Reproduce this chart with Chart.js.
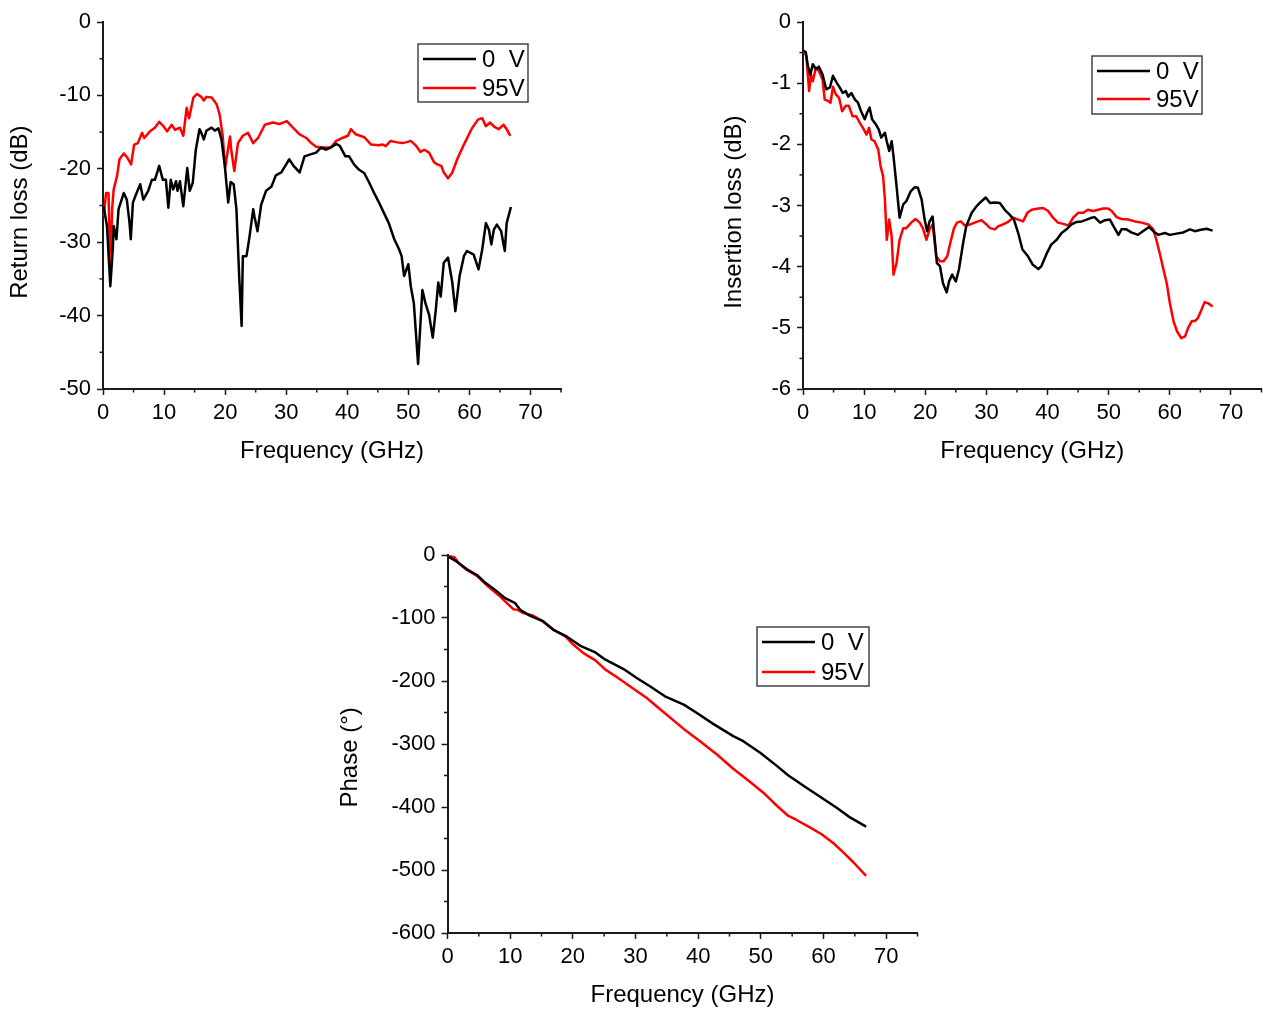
<!DOCTYPE html>
<html>
<head>
<meta charset="utf-8">
<title>Return loss / Insertion loss / Phase</title>
<script src="https://cdn.jsdelivr.net/npm/chart.js@4.4.1/dist/chart.umd.min.js"></script>
<style>
  html, body { margin: 0; padding: 0; background: #fff; }
  body { width: 1263px; height: 1010px; position: relative; overflow: hidden; }
  canvas { position: absolute; }
</style>
</head>
<body>
<canvas id="returnLoss" width="600" height="466" style="left:0px;top:0px"></canvas>
<canvas id="insertionLoss" width="563" height="466" style="left:700px;top:0px"></canvas>
<canvas id="phase" width="610" height="490" style="left:330px;top:520px"></canvas>
<script>
// series labels and frequency tick labels
const seriesLabels = ["0  V", "95V"]
const freqTicks = [0, 10, 20, 30, 40, 50, 60, 70]

// Return loss (dB) vs frequency (GHz)
const returnLoss0V = [
  [0.1, -25.1], [0.65, -27.8], [1.2, -36], [1.6, -31], [1.75, -27.8], [2.2, -29.6], [2.55, -25.5],
  [3.4, -23.3], [3.9, -24.2], [4.35, -27.4], [4.55, -29.6], [4.9, -24.6], [5.3, -23.7], [6.1, -22.1],
  [6.6, -24.2], [7.4, -23], [8.0, -21.5], [8.5, -21.5], [9.2, -19.6], [9.8, -21.5], [10.3, -21.5],
  [10.7, -25.3], [11.1, -21.5], [11.5, -22.8], [11.95, -21.7], [12.2, -23], [12.6, -21.7], [13.15, -25.1],
  [13.8, -19.9], [14.2, -23], [14.7, -21.9], [15.2, -17.4], [15.8, -14.6], [16.1, -15.1], [16.5, -16],
  [16.95, -14.8], [17.8, -14.4], [18.3, -14.8], [18.9, -14.5], [19.4, -16], [19.95, -19.6], [20.5, -24.6],
  [20.9, -21.8], [21.4, -22.1], [21.85, -25.5], [22.3, -34.6], [22.7, -41.4], [22.9, -31.9], [23.5, -31.9],
  [24.0, -29.2], [24.6, -25.5], [24.8, -26.5], [25.3, -28.5], [25.9, -24.9], [26.7, -23], [27.6, -22.4],
  [28.3, -20.9], [29.2, -20.5], [30.0, -19.4], [30.5, -18.7], [31.2, -19.6], [32.2, -20.5], [33.0, -18.3],
  [34.1, -18], [34.9, -17.8], [35.7, -17.1], [36.5, -17.4], [37.3, -17.1], [38.2, -16.6], [38.8, -16.9],
  [39.7, -18.3], [40.3, -18.3], [41.1, -19.4], [41.9, -20.1], [42.8, -20.6], [43.6, -21.9], [44.4, -23.3],
  [45.2, -24.6], [46.0, -26], [46.8, -27.4], [47.7, -29.6], [48.5, -31], [48.9, -31.9], [49.3, -34.6],
  [50.0, -33], [50.4, -36], [50.9, -38.3], [51.6, -46.6], [52.3, -36.5], [52.8, -38.3], [53.4, -39.9],
  [54.0, -43], [54.5, -39.2], [54.9, -35.5], [55.3, -37.4], [55.8, -32.8], [56.5, -32.1], [57.2, -35.5],
  [57.7, -39.4], [58.4, -34.6], [59.1, -31.9], [59.6, -31.2], [60.7, -31.7], [61.5, -33.7], [62.1, -31],
  [62.7, -27.4], [63.2, -28.3], [63.6, -30.3], [64.0, -28.3], [64.5, -27.6], [65.2, -28.5], [65.8, -31.2],
  [66.1, -27.4], [66.8, -25.2]
]
const returnLoss95V = [
  [0.1, -26.5], [0.5, -23.3], [0.9, -23.3], [1.2, -33.3], [1.5, -25.5], [1.75, -22.8], [2.3, -21],
  [2.7, -18.7], [3.4, -17.9], [4.0, -18.5], [4.6, -19.4], [5.1, -16.7], [5.7, -16.5], [6.4, -15.1],
  [6.75, -15.8], [7.7, -14.9], [8.5, -14.4], [9.2, -13.6], [9.9, -14.2], [10.5, -14.9], [11.25, -14],
  [11.8, -14.7], [12.6, -14.4], [13.15, -15.5], [13.7, -11.7], [14.1, -13.1], [14.8, -10.3], [15.4, -9.8],
  [16.1, -10.2], [16.5, -10.7], [16.95, -10.2], [17.8, -10.3], [18.6, -11.2], [19.1, -12.6], [19.6, -15.5],
  [20.0, -19.9], [20.8, -15.6], [21.0, -17.4], [21.5, -20.3], [22.1, -16.5], [22.9, -15.5], [23.75, -15.1],
  [24.6, -16.5], [25.4, -15.8], [26.5, -14], [27.8, -13.7], [28.9, -13.9], [30.1, -13.5], [31.1, -14.4],
  [32.2, -15.3], [33.3, -15.8], [34.1, -16.5], [34.9, -17], [35.9, -17.1], [37.3, -17.1], [38.2, -16.2],
  [39.2, -15.8], [40.1, -15.5], [40.6, -14.6], [41.4, -15.3], [42.8, -15.7], [43.9, -16.7], [45.2, -16.8],
  [45.8, -16.7], [46.3, -16.9], [47.1, -16.2], [48.2, -16.4], [49.0, -16.5], [49.6, -16.4], [50.4, -16.2],
  [51.2, -16.8], [52.0, -17.7], [52.6, -17.4], [53.4, -17.8], [54.2, -19.1], [54.75, -19.4], [55.4, -19.6],
  [55.8, -20.5], [56.5, -21.3], [57.2, -20.5], [58.0, -18.7], [59.1, -16.7], [60.4, -14.5], [61.4, -13.3],
  [62.1, -13.1], [62.7, -14.2], [63.4, -13.7], [64.1, -14.3], [64.8, -14.6], [65.6, -14], [66.1, -14.6],
  [66.7, -15.5]
]

// Insertion loss (dB) vs frequency (GHz)
const insertionLoss0V = [
  [0.1, -0.47], [0.45, -0.49], [0.8, -0.72], [1.2, -0.86], [1.6, -0.69], [2.1, -0.77], [2.6, -0.73],
  [3.2, -0.86], [3.8, -1.1], [4.4, -1.07], [4.9, -0.88], [5.5, -0.99], [6.0, -1.07], [6.5, -1.16],
  [7.0, -1.13], [7.4, -1.22], [7.9, -1.16], [8.5, -1.27], [9.0, -1.32], [9.5, -1.46], [10.1, -1.59],
  [10.5, -1.48], [10.9, -1.4], [11.3, -1.59], [11.9, -1.67], [12.4, -1.76], [12.8, -1.89], [13.4, -1.81],
  [13.7, -1.95], [14.1, -2.11], [14.5, -1.95], [14.8, -2.19], [15.3, -2.68], [15.8, -3.2], [16.4, -2.98],
  [16.9, -2.93], [17.6, -2.77], [18.3, -2.7], [18.8, -2.71], [19.4, -2.9], [19.9, -3.23], [20.3, -3.42],
  [20.7, -3.26], [21.2, -3.18], [21.5, -3.5], [21.9, -3.94], [22.4, -3.99], [22.9, -4.27], [23.5, -4.42],
  [23.9, -4.24], [24.4, -4.13], [25.0, -4.24], [25.5, -4.05], [26.2, -3.61], [26.7, -3.34], [27.6, -3.12],
  [28.4, -3.01], [29.2, -2.93], [29.9, -2.87], [30.6, -2.96], [31.4, -2.95], [32.2, -2.96], [33.0, -3.07],
  [33.8, -3.15], [34.5, -3.23], [35.2, -3.45], [35.9, -3.72], [36.8, -3.83], [37.6, -3.97], [38.5, -4.04],
  [39.0, -3.99], [39.8, -3.8], [40.6, -3.64], [41.5, -3.56], [42.3, -3.45], [43.1, -3.39], [43.9, -3.31],
  [44.7, -3.27], [45.6, -3.26], [46.4, -3.23], [47.2, -3.2], [47.7, -3.19], [48.6, -3.28], [49.4, -3.24],
  [50.2, -3.23], [50.8, -3.34], [51.6, -3.48], [52.1, -3.39], [52.9, -3.39], [53.7, -3.44], [54.8, -3.48],
  [55.6, -3.42], [56.6, -3.35], [57.3, -3.42], [58.1, -3.48], [59.2, -3.45], [60.0, -3.48], [61.1, -3.46],
  [62.2, -3.44], [63.3, -3.39], [64.1, -3.42], [64.9, -3.4], [66.0, -3.38], [67.0, -3.41]
]
const insertionLoss95V = [
  [0.1, -0.47], [0.55, -0.56], [1.0, -1.13], [1.3, -0.86], [1.6, -0.97], [2.1, -0.75], [2.6, -0.8],
  [3.2, -0.94], [3.55, -1.27], [4.1, -1.29], [4.5, -1.32], [4.9, -1.06], [5.35, -1.18], [5.9, -1.24],
  [6.4, -1.46], [7.0, -1.37], [7.5, -1.37], [8.1, -1.54], [8.7, -1.54], [9.3, -1.65], [9.8, -1.73],
  [10.4, -1.84], [10.8, -1.73], [11.2, -1.92], [11.7, -1.95], [12.3, -2.08], [12.7, -2.36], [13.1, -2.52],
  [13.4, -2.9], [13.7, -3.56], [14.1, -3.23], [14.5, -3.5], [14.8, -4.13], [15.3, -3.94], [15.8, -3.56],
  [16.4, -3.37], [16.9, -3.37], [17.7, -3.28], [18.4, -3.22], [19.1, -3.28], [19.6, -3.37], [20.2, -3.56],
  [20.7, -3.39], [21.2, -3.31], [21.5, -3.56], [21.8, -3.83], [22.4, -3.91], [23.0, -3.91], [23.6, -3.83],
  [24.1, -3.61], [24.7, -3.37], [25.2, -3.28], [25.8, -3.26], [26.5, -3.33], [27.3, -3.31], [28.1, -3.28],
  [29.2, -3.24], [30.0, -3.31], [30.6, -3.37], [31.4, -3.39], [31.9, -3.34], [32.7, -3.31], [33.5, -3.27],
  [34.4, -3.2], [35.2, -3.23], [36.0, -3.26], [36.7, -3.12], [37.4, -3.07], [38.5, -3.05], [39.3, -3.04],
  [40.1, -3.09], [40.9, -3.2], [41.7, -3.28], [42.6, -3.3], [43.4, -3.33], [44.2, -3.2], [45.0, -3.12],
  [45.8, -3.12], [46.6, -3.07], [47.5, -3.09], [48.3, -3.07], [49.1, -3.05], [49.9, -3.05], [50.5, -3.09],
  [51.3, -3.19], [52.1, -3.22], [53.2, -3.23], [54.3, -3.26], [55.4, -3.28], [56.5, -3.31], [57.3, -3.39],
  [57.8, -3.56], [58.4, -3.8], [58.9, -4.02], [59.5, -4.27], [60.0, -4.59], [60.6, -4.89], [61.2, -5.06],
  [61.9, -5.17], [62.5, -5.14], [63.0, -5.0], [63.6, -4.89], [64.1, -4.89], [64.6, -4.84], [65.2, -4.7],
  [65.7, -4.58], [66.3, -4.6], [67.0, -4.65]
]

// Phase (°) vs frequency (GHz)
const phase0V = [
  [0.15, -2.6], [1.5, -10.6], [3.1, -22.7], [4.7, -31.7], [6.0, -43.8], [7.6, -55.4], [9.2, -68.6],
  [10.8, -76.5], [11.6, -87.1], [13.2, -96.6], [15.3, -105.5], [16.9, -118.7], [19.0, -129.3],
  [21.2, -144.1], [23.6, -154.6], [25.2, -166.2], [28.1, -181], [30.2, -195.3], [32.3, -208.4],
  [34.7, -224.3], [37.7, -237.5], [39.8, -250.7], [42.4, -268.1], [45.6, -287.6], [47.2, -295.5],
  [49.9, -314], [52.6, -335.1], [54.4, -349.9], [57.1, -368.3], [59.7, -385.2], [62.1, -401.1],
  [64.3, -416.9], [66.8, -431.1]
]
const phase95V = [
  [0.15, -1.6], [1.1, -3.7], [1.8, -13.2], [3.1, -23.7], [4.7, -33.2], [6.5, -50.1], [8.4, -66],
  [10.5, -86], [11.2, -87.1], [12.1, -92.3], [13.5, -95.5], [15.1, -104.5], [16.9, -118.7], [18.8, -129.3],
  [20.1, -142.5], [21.7, -155.7], [23.6, -167.3], [25.2, -182], [27.0, -193.7], [29.1, -208.4],
  [31.8, -226.9], [34.5, -249.6], [37.7, -276], [40.3, -295.5], [43.0, -316.6], [45.6, -339.3],
  [48.3, -360.4], [50.4, -377.3], [52.6, -398.4], [54.4, -414.2], [55.7, -420.6], [57.9, -432.7],
  [59.7, -443.3], [61.6, -457.5], [63.2, -472.3], [64.8, -488.1], [66.8, -509.2]
]

const AXIS = "#1a1a1a"
Chart.defaults.font.family = "'Liberation Sans', Arial, sans-serif"
Chart.defaults.color = "#000"

// ticks menores entre las principales
const minorTicks = {
  id: "minorTicks",
  afterDraw(chart, args, opts) {
    const ctx = chart.ctx
    const area = chart.chartArea
    ctx.save()
    ctx.strokeStyle = AXIS
    ctx.lineWidth = 1.5
    ;["x", "y"].forEach((id) => {
      const scale = chart.scales[id]
      const step = opts[id]
      const k0 = Math.ceil(scale.min / step - 1e-9)
      const k1 = Math.floor(scale.max / step + 1e-9)
      for (let k = k0; k <= k1; k++) {
        if (k % 2 === 0) continue
        const p = scale.getPixelForValue(k * step)
        ctx.beginPath()
        if (id === "x") {
          ctx.moveTo(p, area.bottom)
          ctx.lineTo(p, area.bottom + 3.5)
        } else {
          ctx.moveTo(area.left, p)
          ctx.lineTo(area.left - 3.5, p)
        }
        ctx.stroke()
      }
    })
    ctx.restore()
  },
}

// leyenda con recuadro dentro del gráfico
const boxLegend = {
  id: "boxLegend",
  afterDraw(chart, args, opts) {
    const ctx = chart.ctx
    ctx.save()
    ctx.fillStyle = "#fff"
    ctx.fillRect(opts.x, opts.y, opts.w, opts.h)
    ctx.strokeStyle = "#444"
    ctx.lineWidth = 1.5
    ctx.strokeRect(opts.x, opts.y, opts.w, opts.h)
    chart.data.datasets.forEach((ds, i) => {
      const ly = opts.y + 15 + i * opts.gap
      ctx.strokeStyle = ds.borderColor
      ctx.lineWidth = 2.5
      ctx.beginPath()
      ctx.moveTo(opts.x + 5, ly)
      ctx.lineTo(opts.x + 58, ly)
      ctx.stroke()
      ctx.fillStyle = "#000"
      ctx.font = "24px 'Liberation Sans', Arial, sans-serif"
      ctx.textBaseline = "middle"
      ctx.fillText(ds.label, opts.x + 64, ly + 1)
    })
    ctx.restore()
  },
}

function makeChart(canvasId, cfg) {
  const ctx = document.getElementById(canvasId).getContext("2d")
  return new Chart(ctx, {
    type: "line",
    data: {
      datasets: [
        {
          label: seriesLabels[0],
          data: cfg.black.map((p) => ({ x: p[0], y: p[1] })),
          borderColor: "#000000",
        },
        {
          label: seriesLabels[1],
          data: cfg.red.map((p) => ({ x: p[0], y: p[1] })),
          borderColor: "#ff0000",
        },
      ],
    },
    options: {
      responsive: false,
      animation: false,
      events: [],
      layout: { padding: { top: cfg.padTop, right: cfg.padRight, left: 0, bottom: 0 } },
      elements: {
        line: { borderWidth: 2.5, tension: 0, borderJoinStyle: "round", fill: false },
        point: { radius: 0 },
      },
      scales: {
        x: {
          type: "linear",
          min: 0,
          max: 75,
          afterBuildTicks: (s) => {
            s.ticks = freqTicks.map((v) => ({ value: v }))
          },
          afterFit: (s) => {
            s.height = 77
          },
          ticks: { stepSize: 10, padding: 5, font: { size: 22 }, color: "#000", maxRotation: 0, autoSkip: false },
          grid: { drawOnChartArea: false, tickLength: 6, tickWidth: 1.5, tickColor: AXIS },
          border: { color: AXIS, width: 2 },
          title: { display: true, text: "Frequency (GHz)", font: { size: 24 }, color: "#000", padding: 0 },
        },
        y: {
          type: "linear",
          min: cfg.yMin,
          max: 0,
          afterFit: (s) => {
            s.width = cfg.yWidth
          },
          ticks: { stepSize: cfg.yStep, padding: 6, font: { size: 22 }, color: "#000", autoSkip: false },
          grid: { drawOnChartArea: false, tickLength: 6, tickWidth: 1.5, tickColor: AXIS },
          border: { color: AXIS, width: 2 },
          title: { display: true, text: cfg.yTitle, font: { size: 24 }, color: "#000", padding: { top: cfg.yTitlePad, bottom: 0 } },
        },
      },
      plugins: {
        legend: { display: false },
        tooltip: { enabled: false },
        minorTicks: { x: 5, y: cfg.yStep / 2 },
        boxLegend: cfg.legend,
      },
    },
    plugins: [minorTicks, boxLegend],
  })
}

// trailing spaces nudge the rotated titles down to where the original sits
makeChart("returnLoss", {
  black: returnLoss0V,
  red: returnLoss95V,
  yMin: -50,
  yStep: 10,
  yTitle: "Return loss (dB)  ",
  yWidth: 103,
  yTitlePad: 6,
  padTop: 22,
  padRight: 39,
  legend: { x: 418, y: 44, w: 110, h: 58, gap: 29 },
})

makeChart("insertionLoss", {
  black: insertionLoss0V,
  red: insertionLoss95V,
  yMin: -6,
  yStep: 1,
  yTitle: "Insertion loss (dB)  ",
  yWidth: 103,
  yTitlePad: 20,
  padTop: 22,
  padRight: 1.5,
  legend: { x: 392, y: 56, w: 110, h: 58, gap: 28 },
})

makeChart("phase", {
  black: phase0V,
  red: phase95V,
  yMin: -600,
  yStep: 100,
  yTitle: "Phase (°)    ",
  yWidth: 117.5,
  yTitlePad: 6,
  padTop: 35,
  padRight: 22.5,
  legend: { x: 427, y: 107, w: 112, h: 59, gap: 30 },
})
</script>
</body>
</html>
